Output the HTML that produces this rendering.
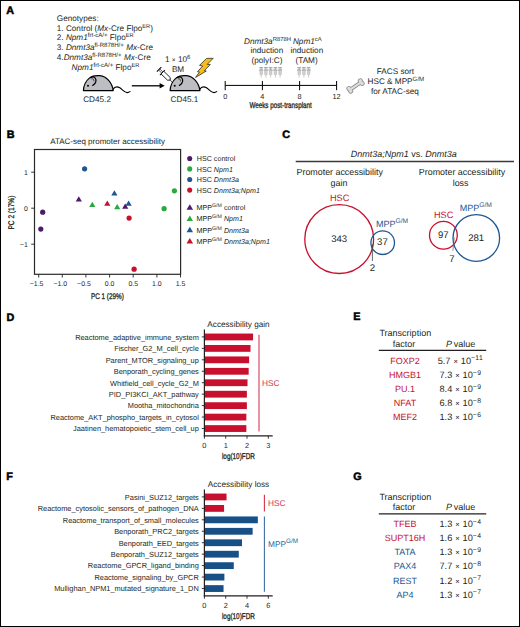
<!DOCTYPE html>
<html><head><meta charset="utf-8"><style>
html,body{margin:0;padding:0;background:#fff;}
svg{display:block;}
text{font-family:"Liberation Sans", sans-serif;}
</style></head><body>
<svg width="520" height="627" viewBox="0 0 520 627" font-family='"Liberation Sans", sans-serif' text-rendering="geometricPrecision">
<rect x="0.5" y="0.5" width="519" height="626" fill="#fff" stroke="#000" stroke-width="1"/>
<text x="6.3" y="14.3" font-size="10.8" text-anchor="start" fill="#000" font-weight="bold" stroke="#000" stroke-width="0.5">A</text>
<text x="6.8" y="137.5" font-size="10.8" text-anchor="start" fill="#000" font-weight="bold" stroke="#000" stroke-width="0.5">B</text>
<text x="282.3" y="137.6" font-size="10.8" text-anchor="start" fill="#000" font-weight="bold" stroke="#000" stroke-width="0.5">C</text>
<text x="6.6" y="320.5" font-size="10.8" text-anchor="start" fill="#000" font-weight="bold" stroke="#000" stroke-width="0.5">D</text>
<text x="353.2" y="320.1" font-size="10.8" text-anchor="start" fill="#000" font-weight="bold" stroke="#000" stroke-width="0.5">E</text>
<text x="6.3" y="480.3" font-size="10.8" text-anchor="start" fill="#000" font-weight="bold" stroke="#000" stroke-width="0.5">F</text>
<text x="353.2" y="480.1" font-size="10.8" text-anchor="start" fill="#000" font-weight="bold" stroke="#000" stroke-width="0.5">G</text>
<text x="56.8" y="20.7" font-size="8.2" text-anchor="start" fill="#231f20" >Genotypes:</text>
<text x="56.8" y="30.7" font-size="8.2" text-anchor="start" fill="#231f20" >1. Control (<tspan font-style="italic">Mx</tspan>-Cre Flpo<tspan font-size="5.6" dy="-3.1">ER</tspan><tspan dy="3.1">)</tspan></text>
<text x="56.8" y="40.4" font-size="8.2" text-anchor="start" fill="#231f20" >2. <tspan font-style="italic">Npm1</tspan><tspan font-size="6.1" dy="-3.1">frt-cA/+</tspan><tspan dy="3.1"> </tspan>Flpo<tspan font-size="5.6" dy="-3.1">ER</tspan></text>
<text x="56.8" y="50.3" font-size="8.2" text-anchor="start" fill="#231f20" >3. <tspan font-style="italic">Dnmt3a</tspan><tspan font-size="6.1" dy="-3.1">fl-R878H/+</tspan><tspan dy="3.1"> </tspan><tspan font-style="italic">Mx</tspan>-Cre</text>
<text x="56.8" y="60.0" font-size="8.2" text-anchor="start" fill="#231f20" >4.<tspan font-style="italic">Dnmt3a</tspan><tspan font-size="6.1" dy="-3.1">fl-R878H/+</tspan><tspan dy="3.1"> </tspan><tspan font-style="italic">Mx</tspan>-Cre</text>
<text x="71.6" y="69.6" font-size="8.2" text-anchor="start" fill="#231f20" ><tspan font-style="italic">Npm1</tspan><tspan font-size="6.1" dy="-3.1">frt-cA/+</tspan><tspan dy="3.1"> </tspan>Flpo<tspan font-size="5.6" dy="-3.1">ER</tspan></text>
<g transform="translate(0,0)"><path d="M83.4,90.6 C83.6,86.6 85.8,81 89.6,77.9 C92.2,75.9 96.4,75.4 99.8,75.7 C106.5,76.4 112.2,82.5 113.2,90.6 Z" fill="#bdbdc4" stroke="#000" stroke-width="1.2" stroke-linejoin="round"/><path d="M90.0,77.9 C91.6,76.2 94.9,76.4 95.8,79.2 C96.5,81.7 94.9,84.2 92.3,85.8" fill="none" stroke="#000" stroke-width="1.2"/><path d="M91.3,78.9 C92.9,78.2 94.2,79.6 93.9,81.4" fill="none" stroke="#000" stroke-width="0.6"/><circle cx="88.0" cy="85.8" r="1.0" fill="#000"/><path d="M112.8,89.6 C114.6,86.9 117.2,86.3 119.8,87.8 C122.4,89.5 124.6,92.6 127.2,92.6 C128.6,92.6 129.5,92.0 130.4,91.4" fill="none" stroke="#000" stroke-width="1.1"/></g>
<g transform="translate(86.7,0)"><path d="M83.4,90.6 C83.6,86.6 85.8,81 89.6,77.9 C92.2,75.9 96.4,75.4 99.8,75.7 C106.5,76.4 112.2,82.5 113.2,90.6 Z" fill="#bdbdc4" stroke="#000" stroke-width="1.2" stroke-linejoin="round"/><path d="M90.0,77.9 C91.6,76.2 94.9,76.4 95.8,79.2 C96.5,81.7 94.9,84.2 92.3,85.8" fill="none" stroke="#000" stroke-width="1.2"/><path d="M91.3,78.9 C92.9,78.2 94.2,79.6 93.9,81.4" fill="none" stroke="#000" stroke-width="0.6"/><circle cx="88.0" cy="85.8" r="1.0" fill="#000"/><path d="M112.8,89.6 C114.6,86.9 117.2,86.3 119.8,87.8 C122.4,89.5 124.6,92.6 127.2,92.6 C128.6,92.6 129.5,92.0 130.4,91.4" fill="none" stroke="#000" stroke-width="1.1"/></g>
<text x="83.2" y="101.8" font-size="8.2" text-anchor="start" fill="#231f20" >CD45.2</text>
<text x="170.6" y="101.6" font-size="8.2" text-anchor="start" fill="#231f20" >CD45.1</text>
<line x1="131.8" y1="85.8" x2="160.5" y2="85.8" stroke="#000" stroke-width="1.3"/>
<path d="M159.6,83 L164.7,85.8 L159.6,88.6 Z" fill="#000"/>
<text x="165" y="61.9" font-size="8.2" text-anchor="start" fill="#231f20" >1 <tspan font-size="6.6">×</tspan> 10<tspan font-size="6.1" dy="-3.3">6</tspan></text>
<text x="171.9" y="71.7" font-size="8.2" text-anchor="start" fill="#231f20" >BM</text>
<g transform="translate(159.1,69.4) rotate(44)"><line x1="0" y1="-3.2" x2="0" y2="3.2" stroke="#000" stroke-width="1"/><line x1="0" y1="-0.8" x2="4.6" y2="-0.8" stroke="#000" stroke-width="0.6"/><line x1="0" y1="0.8" x2="4.6" y2="0.8" stroke="#000" stroke-width="0.6"/><line x1="4.6" y1="-3.6" x2="4.6" y2="3.6" stroke="#000" stroke-width="1"/><path d="M4.6,-1.9 L13.6,-1.9 L15.4,0 L13.6,1.9 L4.6,1.9 Z" fill="#fff" stroke="#000" stroke-width="0.8"/><line x1="15.4" y1="0" x2="19" y2="0" stroke="#000" stroke-width="0.7"/></g>
<path d="M206.5,58.4 L213.2,58.3 L207.2,64.4 L210.3,64.5 L204.2,70.7 L206.3,71.0 L195.6,77.4 L199.5,72.0 L197.5,71.7 L202.7,66.0 L199.5,65.4 Z" fill="#f7bd16" stroke="#222" stroke-width="0.75" stroke-linejoin="miter"/>
<line x1="225.2" y1="85.4" x2="336.6" y2="85.4" stroke="#000" stroke-width="1"/>
<line x1="225.2" y1="81" x2="225.2" y2="90.2" stroke="#000" stroke-width="1"/>
<text x="225.2" y="98.8" font-size="7.3" text-anchor="middle" fill="#231f20" >0</text>
<line x1="262.4" y1="81" x2="262.4" y2="90.2" stroke="#000" stroke-width="1"/>
<text x="262.4" y="98.8" font-size="7.3" text-anchor="middle" fill="#231f20" >4</text>
<line x1="299.6" y1="81" x2="299.6" y2="90.2" stroke="#000" stroke-width="1"/>
<text x="299.6" y="98.8" font-size="7.3" text-anchor="middle" fill="#231f20" >8</text>
<line x1="336.6" y1="81" x2="336.6" y2="90.2" stroke="#000" stroke-width="1"/>
<text x="336.6" y="98.8" font-size="7.3" text-anchor="middle" fill="#231f20" >12</text>
<text x="0" y="0" font-size="8.4" fill="#231f20" stroke="#231f20" stroke-width="0.3" transform="translate(249.4,108.3) scale(0.75,1)">Weeks post-transplant</text>
<text x="267.5" y="43.9" font-size="8.2" text-anchor="middle" fill="#231f20" ><tspan font-style="italic">Dnmt3a</tspan><tspan font-size="5.9" dy="-3.3">R878H</tspan></text>
<text x="266.8" y="53.1" font-size="8.2" text-anchor="middle" fill="#231f20" >induction</text>
<text x="266.9" y="62.6" font-size="8.2" text-anchor="middle" fill="#231f20" >(polyI:C)</text>
<text x="307.3" y="43.9" font-size="8.2" text-anchor="middle" fill="#231f20" ><tspan font-style="italic">Npm1</tspan><tspan font-size="5.9" dy="-3.3">cA</tspan></text>
<text x="306.8" y="53.1" font-size="8.2" text-anchor="middle" fill="#231f20" >induction</text>
<text x="306.6" y="62.6" font-size="8.2" text-anchor="middle" fill="#231f20" >(TAM)</text>
<g transform="translate(261.2,0)"><line x1="-1.8" y1="67.8" x2="1.8" y2="67.8" stroke="#7a7a7a" stroke-width="0.9"/><line x1="0" y1="67.8" x2="0" y2="70" stroke="#9a9a9a" stroke-width="0.6"/><line x1="-2" y1="70.1" x2="2" y2="70.1" stroke="#7a7a7a" stroke-width="0.9"/><path d="M-1.2,70.3 L1.2,70.3 L1.2,74.3 L0,75.5 L-1.2,74.3 Z" fill="#dedede" stroke="#a0a0a0" stroke-width="0.5"/><line x1="0" y1="70.5" x2="0" y2="74.5" stroke="#b8b8b8" stroke-width="0.4"/><line x1="0" y1="75.5" x2="0" y2="77.6" stroke="#a0a0a0" stroke-width="0.5"/></g>
<g transform="translate(265.9,0)"><line x1="-1.8" y1="67.8" x2="1.8" y2="67.8" stroke="#7a7a7a" stroke-width="0.9"/><line x1="0" y1="67.8" x2="0" y2="70" stroke="#9a9a9a" stroke-width="0.6"/><line x1="-2" y1="70.1" x2="2" y2="70.1" stroke="#7a7a7a" stroke-width="0.9"/><path d="M-1.2,70.3 L1.2,70.3 L1.2,74.3 L0,75.5 L-1.2,74.3 Z" fill="#dedede" stroke="#a0a0a0" stroke-width="0.5"/><line x1="0" y1="70.5" x2="0" y2="74.5" stroke="#b8b8b8" stroke-width="0.4"/><line x1="0" y1="75.5" x2="0" y2="77.6" stroke="#a0a0a0" stroke-width="0.5"/></g>
<g transform="translate(270.6,0)"><line x1="-1.8" y1="67.8" x2="1.8" y2="67.8" stroke="#7a7a7a" stroke-width="0.9"/><line x1="0" y1="67.8" x2="0" y2="70" stroke="#9a9a9a" stroke-width="0.6"/><line x1="-2" y1="70.1" x2="2" y2="70.1" stroke="#7a7a7a" stroke-width="0.9"/><path d="M-1.2,70.3 L1.2,70.3 L1.2,74.3 L0,75.5 L-1.2,74.3 Z" fill="#dedede" stroke="#a0a0a0" stroke-width="0.5"/><line x1="0" y1="70.5" x2="0" y2="74.5" stroke="#b8b8b8" stroke-width="0.4"/><line x1="0" y1="75.5" x2="0" y2="77.6" stroke="#a0a0a0" stroke-width="0.5"/></g>
<g transform="translate(275.4,0)"><line x1="-1.8" y1="67.8" x2="1.8" y2="67.8" stroke="#7a7a7a" stroke-width="0.9"/><line x1="0" y1="67.8" x2="0" y2="70" stroke="#9a9a9a" stroke-width="0.6"/><line x1="-2" y1="70.1" x2="2" y2="70.1" stroke="#7a7a7a" stroke-width="0.9"/><path d="M-1.2,70.3 L1.2,70.3 L1.2,74.3 L0,75.5 L-1.2,74.3 Z" fill="#dedede" stroke="#a0a0a0" stroke-width="0.5"/><line x1="0" y1="70.5" x2="0" y2="74.5" stroke="#b8b8b8" stroke-width="0.4"/><line x1="0" y1="75.5" x2="0" y2="77.6" stroke="#a0a0a0" stroke-width="0.5"/></g>
<g transform="translate(280.1,0)"><line x1="-1.8" y1="67.8" x2="1.8" y2="67.8" stroke="#7a7a7a" stroke-width="0.9"/><line x1="0" y1="67.8" x2="0" y2="70" stroke="#9a9a9a" stroke-width="0.6"/><line x1="-2" y1="70.1" x2="2" y2="70.1" stroke="#7a7a7a" stroke-width="0.9"/><path d="M-1.2,70.3 L1.2,70.3 L1.2,74.3 L0,75.5 L-1.2,74.3 Z" fill="#dedede" stroke="#a0a0a0" stroke-width="0.5"/><line x1="0" y1="70.5" x2="0" y2="74.5" stroke="#b8b8b8" stroke-width="0.4"/><line x1="0" y1="75.5" x2="0" y2="77.6" stroke="#a0a0a0" stroke-width="0.5"/></g>
<g transform="translate(299.2,0)"><line x1="-1.8" y1="67.8" x2="1.8" y2="67.8" stroke="#7a7a7a" stroke-width="0.9"/><line x1="0" y1="67.8" x2="0" y2="70" stroke="#9a9a9a" stroke-width="0.6"/><line x1="-2" y1="70.1" x2="2" y2="70.1" stroke="#7a7a7a" stroke-width="0.9"/><path d="M-1.2,70.3 L1.2,70.3 L1.2,74.3 L0,75.5 L-1.2,74.3 Z" fill="#dedede" stroke="#a0a0a0" stroke-width="0.5"/><line x1="0" y1="70.5" x2="0" y2="74.5" stroke="#b8b8b8" stroke-width="0.4"/><line x1="0" y1="75.5" x2="0" y2="77.6" stroke="#a0a0a0" stroke-width="0.5"/></g>
<g transform="translate(303.9,0)"><line x1="-1.8" y1="67.8" x2="1.8" y2="67.8" stroke="#7a7a7a" stroke-width="0.9"/><line x1="0" y1="67.8" x2="0" y2="70" stroke="#9a9a9a" stroke-width="0.6"/><line x1="-2" y1="70.1" x2="2" y2="70.1" stroke="#7a7a7a" stroke-width="0.9"/><path d="M-1.2,70.3 L1.2,70.3 L1.2,74.3 L0,75.5 L-1.2,74.3 Z" fill="#dedede" stroke="#a0a0a0" stroke-width="0.5"/><line x1="0" y1="70.5" x2="0" y2="74.5" stroke="#b8b8b8" stroke-width="0.4"/><line x1="0" y1="75.5" x2="0" y2="77.6" stroke="#a0a0a0" stroke-width="0.5"/></g>
<g transform="translate(308.6,0)"><line x1="-1.8" y1="67.8" x2="1.8" y2="67.8" stroke="#7a7a7a" stroke-width="0.9"/><line x1="0" y1="67.8" x2="0" y2="70" stroke="#9a9a9a" stroke-width="0.6"/><line x1="-2" y1="70.1" x2="2" y2="70.1" stroke="#7a7a7a" stroke-width="0.9"/><path d="M-1.2,70.3 L1.2,70.3 L1.2,74.3 L0,75.5 L-1.2,74.3 Z" fill="#dedede" stroke="#a0a0a0" stroke-width="0.5"/><line x1="0" y1="70.5" x2="0" y2="74.5" stroke="#b8b8b8" stroke-width="0.4"/><line x1="0" y1="75.5" x2="0" y2="77.6" stroke="#a0a0a0" stroke-width="0.5"/></g>
<g transform="translate(355.5,86.0) rotate(-34)"><rect x="-7" y="-1.15" width="14" height="2.3" fill="#8c8c8c" stroke="#8c8c8c" stroke-width="1.5"/><circle cx="-6.9" cy="-1.55" r="1.75" fill="#8c8c8c" stroke="#8c8c8c" stroke-width="1.5"/><circle cx="-6.9" cy="1.55" r="1.75" fill="#8c8c8c" stroke="#8c8c8c" stroke-width="1.5"/><circle cx="6.9" cy="-1.55" r="1.75" fill="#8c8c8c" stroke="#8c8c8c" stroke-width="1.5"/><circle cx="6.9" cy="1.55" r="1.75" fill="#8c8c8c" stroke="#8c8c8c" stroke-width="1.5"/><rect x="-7" y="-1.15" width="14" height="2.3" fill="#dcdcdc"/><circle cx="-6.9" cy="-1.55" r="1.75" fill="#dcdcdc"/><circle cx="-6.9" cy="1.55" r="1.75" fill="#dcdcdc"/><circle cx="6.9" cy="-1.55" r="1.75" fill="#dcdcdc"/><circle cx="6.9" cy="1.55" r="1.75" fill="#dcdcdc"/></g>
<text x="395.4" y="74.1" font-size="8.2" text-anchor="middle" fill="#231f20" >FACS sort</text>
<text x="395.9" y="83.7" font-size="8.2" text-anchor="middle" fill="#231f20" >HSC &amp; MPP<tspan font-size="6.2" dy="-3.2">G/M</tspan></text>
<text x="394.9" y="93.5" font-size="8.2" text-anchor="middle" fill="#231f20" >for ATAC-seq</text>
<text x="107.6" y="143.9" font-size="8" text-anchor="middle" fill="#231f20" >ATAC-seq promoter accessibility</text>
<rect x="34.5" y="149.5" width="146.1" height="124.8" fill="none" stroke="#2a2a2a" stroke-width="1.2"/>
<line x1="31.2" y1="172.2" x2="34.5" y2="172.2" stroke="#231f20" stroke-width="0.9"/>
<text x="27.8" y="174.6" font-size="6.9" text-anchor="end" fill="#231f20" >1</text>
<line x1="31.2" y1="208.2" x2="34.5" y2="208.2" stroke="#231f20" stroke-width="0.9"/>
<text x="27.8" y="210.6" font-size="6.9" text-anchor="end" fill="#231f20" >0</text>
<line x1="31.2" y1="244.2" x2="34.5" y2="244.2" stroke="#231f20" stroke-width="0.9"/>
<text x="27.8" y="246.6" font-size="6.9" text-anchor="end" fill="#231f20" >−1</text>
<line x1="38.7" y1="274.3" x2="38.7" y2="277.5" stroke="#231f20" stroke-width="0.9"/>
<text x="29.82" y="286.1" font-size="6.9" text-anchor="start" fill="#231f20" >−1.5</text>
<line x1="62.3" y1="274.3" x2="62.3" y2="277.5" stroke="#231f20" stroke-width="0.9"/>
<text x="53.47" y="286.1" font-size="6.9" text-anchor="start" fill="#231f20" >−1.0</text>
<line x1="85.9" y1="274.3" x2="85.9" y2="277.5" stroke="#231f20" stroke-width="0.9"/>
<text x="77.12" y="286.1" font-size="6.9" text-anchor="start" fill="#231f20" >−0.5</text>
<line x1="109.6" y1="274.3" x2="109.6" y2="277.5" stroke="#231f20" stroke-width="0.9"/>
<text x="104.8" y="286.1" font-size="6.9" text-anchor="start" fill="#231f20" >0.0</text>
<line x1="133.2" y1="274.3" x2="133.2" y2="277.5" stroke="#231f20" stroke-width="0.9"/>
<text x="128.45" y="286.1" font-size="6.9" text-anchor="start" fill="#231f20" >0.5</text>
<line x1="156.9" y1="274.3" x2="156.9" y2="277.5" stroke="#231f20" stroke-width="0.9"/>
<text x="152.1" y="286.1" font-size="6.9" text-anchor="start" fill="#231f20" >1.0</text>
<line x1="180.5" y1="274.3" x2="180.5" y2="277.5" stroke="#231f20" stroke-width="0.9"/>
<text x="175.75" y="286.1" font-size="6.9" text-anchor="start" fill="#231f20" >1.5</text>
<text x="0" y="0" font-size="8.2" fill="#231f20" stroke="#231f20" stroke-width="0.3" text-anchor="middle" transform="translate(107.4,299) scale(0.775,1)">PC 1 (29%)</text>
<text x="0" y="0" font-size="8.2" fill="#231f20" stroke="#231f20" stroke-width="0.3" text-anchor="middle" transform="translate(13.9,212.6) rotate(-90) scale(0.80,1)">PC 2 (17%)</text>
<circle cx="84.6" cy="168.8" r="2.6" fill="#1d5893"/>
<circle cx="42.7" cy="212.2" r="2.6" fill="#4d1a6c"/>
<circle cx="40.8" cy="229.1" r="2.6" fill="#4d1a6c"/>
<circle cx="129.1" cy="218.1" r="2.6" fill="#c8102e"/>
<circle cx="134.1" cy="269.2" r="2.6" fill="#c8102e"/>
<circle cx="174.4" cy="190.8" r="2.6" fill="#2aaa3e"/>
<circle cx="164.1" cy="208.7" r="2.6" fill="#2aaa3e"/>
<path d="M75.70,201.53 L81.90,201.53 L78.80,196.27 Z" fill="#4d1a6c"/>
<path d="M89.20,207.03 L95.40,207.03 L92.30,201.77 Z" fill="#2aaa3e"/>
<path d="M104.20,205.74 L110.40,205.74 L107.30,200.47 Z" fill="#c8102e"/>
<path d="M111.30,195.44 L117.50,195.44 L114.40,190.17 Z" fill="#1d5893"/>
<path d="M114.10,209.34 L120.30,209.34 L117.20,204.07 Z" fill="#2aaa3e"/>
<path d="M125.50,205.74 L131.70,205.74 L128.60,200.47 Z" fill="#1d5893"/>
<path d="M122.10,208.84 L128.30,208.84 L125.20,203.57 Z" fill="#4d1a6c"/>
<circle cx="189.7" cy="158.5" r="2.55" fill="#4d1a6c"/>
<text x="196.8" y="161.1" font-size="7.15" text-anchor="start" fill="#231f20" >HSC control</text>
<circle cx="189.7" cy="168.9" r="2.55" fill="#2aaa3e"/>
<text x="196.8" y="171.5" font-size="7.15" text-anchor="start" fill="#231f20" >HSC <tspan font-style="italic">Npm1</tspan></text>
<circle cx="189.7" cy="179.5" r="2.55" fill="#1d5893"/>
<text x="196.8" y="182.1" font-size="7.15" text-anchor="start" fill="#231f20" >HSC <tspan font-style="italic">Dnmt3a</tspan></text>
<circle cx="189.7" cy="190.1" r="2.55" fill="#c8102e"/>
<text x="196.8" y="192.7" font-size="7.15" text-anchor="start" fill="#231f20" >HSC <tspan font-style="italic">Dnmt3a;Npm1</tspan></text>
<path d="M186.55,209.76 L193.05,209.76 L189.80,204.24 Z" fill="#4d1a6c"/>
<text x="196.6" y="210.0" font-size="7.15" text-anchor="start" fill="#231f20" >MPP<tspan font-size="5.2" dy="-3.0">G/M</tspan><tspan dy="3.0"> </tspan>control</text>
<path d="M186.55,220.96 L193.05,220.96 L189.80,215.44 Z" fill="#2aaa3e"/>
<text x="196.6" y="221.20000000000002" font-size="7.15" text-anchor="start" fill="#231f20" >MPP<tspan font-size="5.2" dy="-3.0">G/M</tspan><tspan dy="3.0"> </tspan><tspan font-style="italic">Npm1</tspan></text>
<path d="M186.55,232.26 L193.05,232.26 L189.80,226.74 Z" fill="#1d5893"/>
<text x="196.6" y="232.5" font-size="7.15" text-anchor="start" fill="#231f20" >MPP<tspan font-size="5.2" dy="-3.0">G/M</tspan><tspan dy="3.0"> </tspan><tspan font-style="italic">Dnmt3a</tspan></text>
<path d="M186.55,243.56 L193.05,243.56 L189.80,238.04 Z" fill="#c8102e"/>
<text x="196.6" y="243.8" font-size="7.15" text-anchor="start" fill="#231f20" >MPP<tspan font-size="5.2" dy="-3.0">G/M</tspan><tspan dy="3.0"> </tspan><tspan font-style="italic">Dnmt3a;Npm1</tspan></text>
<text x="403.8" y="156.6" font-size="9.0" text-anchor="middle" fill="#231f20" ><tspan font-style="italic">Dnmt3a;Npm1</tspan> vs. <tspan font-style="italic">Dnmt3a</tspan></text>
<line x1="295.7" y1="161.5" x2="514" y2="161.5" stroke="#3a3a3a" stroke-width="1.3"/>
<text x="339.7" y="175.3" font-size="8.9" text-anchor="middle" fill="#231f20" >Promoter accessibility</text>
<text x="339.0" y="185.9" font-size="8.9" text-anchor="middle" fill="#231f20" >gain</text>
<text x="462.0" y="175.3" font-size="8.9" text-anchor="middle" fill="#231f20" >Promoter accessibility</text>
<text x="460.6" y="185.9" font-size="8.9" text-anchor="middle" fill="#231f20" >loss</text>
<circle cx="339.2" cy="239.1" r="34.4" fill="none" stroke="#c8102e" stroke-width="1.3"/>
<circle cx="382.7" cy="242.7" r="11.8" fill="none" stroke="#1d5893" stroke-width="1.3"/>
<text x="339.7" y="200.7" font-size="9.2" text-anchor="middle" fill="#c8102e" >HSC</text>
<text x="376.0" y="226.8" font-size="9.0" text-anchor="start" fill="#1d5893" >MPP<tspan font-size="6.7" dy="-3.5">G/M</tspan></text>
<text x="339.2" y="241.9" font-size="9.6" text-anchor="middle" fill="#231f20" >343</text>
<text x="382.4" y="245.4" font-size="9.6" text-anchor="middle" fill="#231f20" >37</text>
<line x1="372.4" y1="244" x2="372.4" y2="261" stroke="#444" stroke-width="0.8"/>
<text x="372.4" y="270.9" font-size="9.6" text-anchor="middle" fill="#231f20" >2</text>
<circle cx="443.4" cy="235.2" r="13.9" fill="none" stroke="#c8102e" stroke-width="1.3"/>
<circle cx="476.3" cy="238.0" r="23.3" fill="none" stroke="#1d5893" stroke-width="1.3"/>
<text x="443.6" y="217.7" font-size="9.2" text-anchor="middle" fill="#c8102e" >HSC</text>
<text x="459.8" y="210.8" font-size="9.0" text-anchor="start" fill="#1d5893" >MPP<tspan font-size="6.7" dy="-3.5">G/M</tspan></text>
<text x="443.3" y="238.4" font-size="9.6" text-anchor="middle" fill="#231f20" >97</text>
<text x="476.2" y="241.4" font-size="9.6" text-anchor="middle" fill="#231f20" >281</text>
<line x1="454.3" y1="237.5" x2="452.9" y2="250.8" stroke="#666" stroke-width="0.7"/>
<text x="451.9" y="261.5" font-size="9.6" text-anchor="middle" fill="#231f20" >7</text>
<text x="238.5" y="326.90000000000003" font-size="8.2" text-anchor="middle" fill="#231f20" >Accessibility gain</text>
<rect x="205.0" y="333.55" width="48.05" height="6.8" fill="#c8102e"/>
<line x1="201.8" y1="336.90" x2="204.4" y2="336.90" stroke="#231f20" stroke-width="0.9"/>
<text x="198.8" y="339.70000000000005" font-size="7.4" text-anchor="end" fill="#231f20" >Reactome_adaptive_immune_system</text>
<rect x="205.0" y="345.00" width="45.50" height="6.8" fill="#c8102e"/>
<line x1="201.8" y1="348.35" x2="204.4" y2="348.35" stroke="#231f20" stroke-width="0.9"/>
<text x="198.8" y="351.15000000000003" font-size="7.4" text-anchor="end" fill="#231f20" >Fischer_G2_M_cell_cycle</text>
<rect x="205.0" y="356.45" width="44.11" height="6.8" fill="#c8102e"/>
<line x1="201.8" y1="359.80" x2="204.4" y2="359.80" stroke="#231f20" stroke-width="0.9"/>
<text x="198.8" y="362.6" font-size="7.4" text-anchor="end" fill="#231f20" >Parent_MTOR_signaling_up</text>
<rect x="205.0" y="367.90" width="43.68" height="6.8" fill="#c8102e"/>
<line x1="201.8" y1="371.25" x2="204.4" y2="371.25" stroke="#231f20" stroke-width="0.9"/>
<text x="198.8" y="374.05" font-size="7.4" text-anchor="end" fill="#231f20" >Benporath_cycling_genes</text>
<rect x="205.0" y="379.35" width="42.51" height="6.8" fill="#c8102e"/>
<line x1="201.8" y1="382.70" x2="204.4" y2="382.70" stroke="#231f20" stroke-width="0.9"/>
<text x="198.8" y="385.50000000000006" font-size="7.4" text-anchor="end" fill="#231f20" >Whitfield_cell_cycle_G2_M</text>
<rect x="205.0" y="390.80" width="41.87" height="6.8" fill="#c8102e"/>
<line x1="201.8" y1="394.15" x2="204.4" y2="394.15" stroke="#231f20" stroke-width="0.9"/>
<text x="198.8" y="396.95000000000005" font-size="7.4" text-anchor="end" fill="#231f20" >PID_PI3KCI_AKT_pathway</text>
<rect x="205.0" y="402.25" width="41.87" height="6.8" fill="#c8102e"/>
<line x1="201.8" y1="405.60" x2="204.4" y2="405.60" stroke="#231f20" stroke-width="0.9"/>
<text x="198.8" y="408.40000000000003" font-size="7.4" text-anchor="end" fill="#231f20" >Mootha_mitochondria</text>
<rect x="205.0" y="413.70" width="41.34" height="6.8" fill="#c8102e"/>
<line x1="201.8" y1="417.05" x2="204.4" y2="417.05" stroke="#231f20" stroke-width="0.9"/>
<text x="198.8" y="419.85" font-size="7.4" text-anchor="end" fill="#231f20" >Reactome_AKT_phospho_targets_in_cytosol</text>
<rect x="205.0" y="425.15" width="41.34" height="6.8" fill="#c8102e"/>
<line x1="201.8" y1="428.50" x2="204.4" y2="428.50" stroke="#231f20" stroke-width="0.9"/>
<text x="198.8" y="431.3" font-size="7.4" text-anchor="end" fill="#231f20" >Jaatinen_hematopoietic_stem_cell_up</text>
<line x1="204.4" y1="329.50" x2="204.4" y2="436.50" stroke="#231f20" stroke-width="1.2"/>
<line x1="203.8" y1="435.90" x2="272.7" y2="435.90" stroke="#231f20" stroke-width="1.2"/>
<line x1="204.40" y1="435.90" x2="204.40" y2="438.70" stroke="#231f20" stroke-width="0.9"/>
<text x="204.4" y="447.59999999999997" font-size="7.4" text-anchor="middle" fill="#231f20" >0</text>
<line x1="225.70" y1="435.90" x2="225.70" y2="438.70" stroke="#231f20" stroke-width="0.9"/>
<text x="225.70000000000002" y="447.59999999999997" font-size="7.4" text-anchor="middle" fill="#231f20" >1</text>
<line x1="247.00" y1="435.90" x2="247.00" y2="438.70" stroke="#231f20" stroke-width="0.9"/>
<text x="247.0" y="447.59999999999997" font-size="7.4" text-anchor="middle" fill="#231f20" >2</text>
<line x1="268.30" y1="435.90" x2="268.30" y2="438.70" stroke="#231f20" stroke-width="0.9"/>
<text x="268.3" y="447.59999999999997" font-size="7.4" text-anchor="middle" fill="#231f20" >3</text>
<text x="0" y="0" font-size="8.4" fill="#231f20" stroke="#231f20" stroke-width="0.3" text-anchor="middle" transform="translate(238.4,459.30) scale(0.76,1)">log(10)FDR</text>
<line x1="259.0" y1="334.8" x2="259.0" y2="431.5" stroke="#e07a8d" stroke-width="1.6"/>
<text x="261.9" y="386.2" font-size="8.3" text-anchor="start" fill="#d0304f" >HSC</text>
<text x="238.5" y="486.90000000000003" font-size="8.2" text-anchor="middle" fill="#231f20" >Accessibility loss</text>
<rect x="205.0" y="493.55" width="21.53" height="6.8" fill="#c8102e"/>
<line x1="201.8" y1="496.90" x2="204.4" y2="496.90" stroke="#231f20" stroke-width="0.9"/>
<text x="198.8" y="499.70000000000005" font-size="7.4" text-anchor="end" fill="#231f20" >Pasini_SUZ12_targets</text>
<rect x="205.0" y="505.00" width="19.08" height="6.8" fill="#c8102e"/>
<line x1="201.8" y1="508.35" x2="204.4" y2="508.35" stroke="#231f20" stroke-width="0.9"/>
<text x="198.8" y="511.15000000000003" font-size="7.4" text-anchor="end" fill="#231f20" >Reactome_cytosolic_sensors_of_pathogen_DNA</text>
<rect x="205.0" y="516.45" width="52.84" height="6.8" fill="#175087"/>
<line x1="201.8" y1="519.80" x2="204.4" y2="519.80" stroke="#231f20" stroke-width="0.9"/>
<text x="198.8" y="522.6" font-size="7.4" text-anchor="end" fill="#231f20" >Reactome_transport_of_small_molecules</text>
<rect x="205.0" y="527.90" width="47.63" height="6.8" fill="#175087"/>
<line x1="201.8" y1="531.25" x2="204.4" y2="531.25" stroke="#231f20" stroke-width="0.9"/>
<text x="198.8" y="534.05" font-size="7.4" text-anchor="end" fill="#231f20" >Benporath_PRC2_targets</text>
<rect x="205.0" y="539.35" width="36.98" height="6.8" fill="#175087"/>
<line x1="201.8" y1="542.70" x2="204.4" y2="542.70" stroke="#231f20" stroke-width="0.9"/>
<text x="198.8" y="545.5" font-size="7.4" text-anchor="end" fill="#231f20" >Benporath_EED_targets</text>
<rect x="205.0" y="550.80" width="33.78" height="6.8" fill="#175087"/>
<line x1="201.8" y1="554.15" x2="204.4" y2="554.15" stroke="#231f20" stroke-width="0.9"/>
<text x="198.8" y="556.9499999999999" font-size="7.4" text-anchor="end" fill="#231f20" >Benporath_SUZ12_targets</text>
<rect x="205.0" y="562.25" width="28.77" height="6.8" fill="#175087"/>
<line x1="201.8" y1="565.60" x2="204.4" y2="565.60" stroke="#231f20" stroke-width="0.9"/>
<text x="198.8" y="568.4" font-size="7.4" text-anchor="end" fill="#231f20" >Reactome_GPCR_ligand_binding</text>
<rect x="205.0" y="573.70" width="19.40" height="6.8" fill="#175087"/>
<line x1="201.8" y1="577.05" x2="204.4" y2="577.05" stroke="#231f20" stroke-width="0.9"/>
<text x="198.8" y="579.85" font-size="7.4" text-anchor="end" fill="#231f20" >Reactome_signaling_by_GPCR</text>
<rect x="205.0" y="585.15" width="18.55" height="6.8" fill="#175087"/>
<line x1="201.8" y1="588.50" x2="204.4" y2="588.50" stroke="#231f20" stroke-width="0.9"/>
<text x="198.8" y="591.3" font-size="7.4" text-anchor="end" fill="#231f20" >Mullighan_NPM1_mutated_signature_1_DN</text>
<line x1="204.4" y1="489.50" x2="204.4" y2="596.50" stroke="#231f20" stroke-width="1.2"/>
<line x1="203.8" y1="595.90" x2="272.7" y2="595.90" stroke="#231f20" stroke-width="1.2"/>
<line x1="204.40" y1="595.90" x2="204.40" y2="598.70" stroke="#231f20" stroke-width="0.9"/>
<text x="204.4" y="607.6" font-size="7.4" text-anchor="middle" fill="#231f20" >0</text>
<line x1="225.70" y1="595.90" x2="225.70" y2="598.70" stroke="#231f20" stroke-width="0.9"/>
<text x="225.70000000000002" y="607.6" font-size="7.4" text-anchor="middle" fill="#231f20" >2</text>
<line x1="247.00" y1="595.90" x2="247.00" y2="598.70" stroke="#231f20" stroke-width="0.9"/>
<text x="247.0" y="607.6" font-size="7.4" text-anchor="middle" fill="#231f20" >4</text>
<line x1="268.30" y1="595.90" x2="268.30" y2="598.70" stroke="#231f20" stroke-width="0.9"/>
<text x="268.3" y="607.6" font-size="7.4" text-anchor="middle" fill="#231f20" >6</text>
<text x="0" y="0" font-size="8.4" fill="#231f20" stroke="#231f20" stroke-width="0.3" text-anchor="middle" transform="translate(238.4,619.30) scale(0.76,1)">log(10)FDR</text>
<line x1="264.4" y1="494.7" x2="264.4" y2="511.6" stroke="#d4324f" stroke-width="1.1"/>
<text x="268.0" y="505.7" font-size="8.3" text-anchor="start" fill="#d0304f" >HSC</text>
<line x1="264.4" y1="516.4" x2="264.4" y2="591.7" stroke="#3a6fa3" stroke-width="1.1"/>
<text x="268.0" y="547.0" font-size="8.3" text-anchor="start" fill="#2a629c" >MPP<tspan font-size="6.4" dy="-3.6">G/M</tspan></text>
<text x="405.3" y="336.1" font-size="9.0" text-anchor="middle" fill="#231f20" >Transcription</text>
<text x="404.0" y="346.5" font-size="9.0" text-anchor="middle" fill="#231f20" >factor</text>
<text x="460.6" y="346.5" font-size="9.0" text-anchor="middle" fill="#231f20" ><tspan font-style="italic">P</tspan><tspan dx="-0.6"> value</tspan></text>
<line x1="378.8" y1="350.40" x2="486.2" y2="350.40" stroke="#231f20" stroke-width="1.1"/>
<text x="405.0" y="363.6" font-size="9.0" text-anchor="middle" fill="#c8102e" >FOXP2</text>
<text x="460.4" y="363.6" font-size="9.2" text-anchor="middle" fill="#231f20" >5.7 <tspan font-size="7.6" dx="0.5">×</tspan> <tspan dx="0.3">10</tspan><tspan font-size="6.8" dy="-3.2" letter-spacing="0.35">−11</tspan></text>
<text x="405.0" y="377.70000000000005" font-size="9.0" text-anchor="middle" fill="#c8102e" >HMGB1</text>
<text x="460.4" y="377.70000000000005" font-size="9.2" text-anchor="middle" fill="#231f20" >7.3 <tspan font-size="7.6" dx="0.5">×</tspan> <tspan dx="0.3">10</tspan><tspan font-size="6.8" dy="-3.2" letter-spacing="0.35">−9</tspan></text>
<text x="405.0" y="391.8" font-size="9.0" text-anchor="middle" fill="#c8102e" >PU.1</text>
<text x="460.4" y="391.8" font-size="9.2" text-anchor="middle" fill="#231f20" >8.4 <tspan font-size="7.6" dx="0.5">×</tspan> <tspan dx="0.3">10</tspan><tspan font-size="6.8" dy="-3.2" letter-spacing="0.35">−9</tspan></text>
<text x="405.0" y="405.90000000000003" font-size="9.0" text-anchor="middle" fill="#c8102e" >NFAT</text>
<text x="460.4" y="405.90000000000003" font-size="9.2" text-anchor="middle" fill="#231f20" >6.8 <tspan font-size="7.6" dx="0.5">×</tspan> <tspan dx="0.3">10</tspan><tspan font-size="6.8" dy="-3.2" letter-spacing="0.35">−8</tspan></text>
<text x="405.0" y="420.0" font-size="9.0" text-anchor="middle" fill="#c8102e" >MEF2</text>
<text x="460.4" y="420.0" font-size="9.2" text-anchor="middle" fill="#231f20" >1.3 <tspan font-size="7.6" dx="0.5">×</tspan> <tspan dx="0.3">10</tspan><tspan font-size="6.8" dy="-3.2" letter-spacing="0.35">−6</tspan></text>
<text x="405.3" y="499.6" font-size="9.0" text-anchor="middle" fill="#231f20" >Transcription</text>
<text x="404.0" y="510.0" font-size="9.0" text-anchor="middle" fill="#231f20" >factor</text>
<text x="460.6" y="510.0" font-size="9.0" text-anchor="middle" fill="#231f20" ><tspan font-style="italic">P</tspan><tspan dx="-0.6"> value</tspan></text>
<line x1="378.8" y1="513.90" x2="486.2" y2="513.90" stroke="#231f20" stroke-width="1.1"/>
<text x="405.0" y="527.1" font-size="9.0" text-anchor="middle" fill="#c8102e" >TFEB</text>
<text x="460.4" y="527.1" font-size="9.2" text-anchor="middle" fill="#231f20" >1.3 <tspan font-size="7.6" dx="0.5">×</tspan> <tspan dx="0.3">10</tspan><tspan font-size="6.8" dy="-3.2" letter-spacing="0.35">−4</tspan></text>
<text x="405.0" y="541.2" font-size="9.0" text-anchor="middle" fill="#c8102e" >SUPT16H</text>
<text x="460.4" y="541.2" font-size="9.2" text-anchor="middle" fill="#231f20" >1.6 <tspan font-size="7.6" dx="0.5">×</tspan> <tspan dx="0.3">10</tspan><tspan font-size="6.8" dy="-3.2" letter-spacing="0.35">−4</tspan></text>
<text x="405.0" y="555.3000000000001" font-size="9.0" text-anchor="middle" fill="#1d5893" >TATA</text>
<text x="460.4" y="555.3000000000001" font-size="9.2" text-anchor="middle" fill="#231f20" >1.3 <tspan font-size="7.6" dx="0.5">×</tspan> <tspan dx="0.3">10</tspan><tspan font-size="6.8" dy="-3.2" letter-spacing="0.35">−9</tspan></text>
<text x="405.0" y="569.4" font-size="9.0" text-anchor="middle" fill="#1d5893" >PAX4</text>
<text x="460.4" y="569.4" font-size="9.2" text-anchor="middle" fill="#231f20" >7.7 <tspan font-size="7.6" dx="0.5">×</tspan> <tspan dx="0.3">10</tspan><tspan font-size="6.8" dy="-3.2" letter-spacing="0.35">−8</tspan></text>
<text x="405.0" y="583.5" font-size="9.0" text-anchor="middle" fill="#1d5893" >REST</text>
<text x="460.4" y="583.5" font-size="9.2" text-anchor="middle" fill="#231f20" >1.2 <tspan font-size="7.6" dx="0.5">×</tspan> <tspan dx="0.3">10</tspan><tspan font-size="6.8" dy="-3.2" letter-spacing="0.35">−7</tspan></text>
<text x="405.0" y="597.6" font-size="9.0" text-anchor="middle" fill="#1d5893" >AP4</text>
<text x="460.4" y="597.6" font-size="9.2" text-anchor="middle" fill="#231f20" >1.3 <tspan font-size="7.6" dx="0.5">×</tspan> <tspan dx="0.3">10</tspan><tspan font-size="6.8" dy="-3.2" letter-spacing="0.35">−7</tspan></text>
</svg>
</body></html>
